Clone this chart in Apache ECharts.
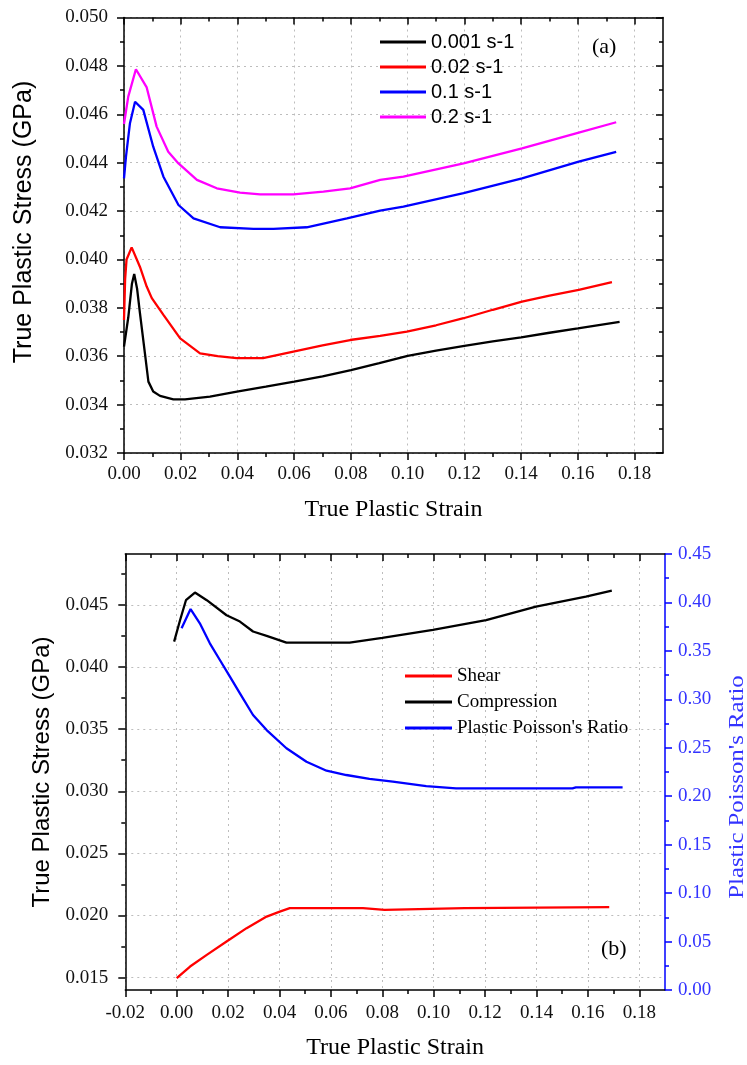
<!DOCTYPE html>
<html>
<head>
<meta charset="utf-8">
<script src="https://cdn.jsdelivr.net/npm/echarts@6/dist/echarts.min.js"></script>
<style>html,body{margin:0;padding:0;background:#fff}#c{width:747px;height:1065px}</style>
</head>
<body>
<div id="c"></div>
<script>
// ---------- Data: panel (a) ----------
const rateNames = ['0.001 s-1', '0.02 s-1', '0.1 s-1', '0.2 s-1'];
const strain001 = [0, 0.0015, 0.0028, 0.0036, 0.0046, 0.0056, 0.0074, 0.0086, 0.0103, 0.0127, 0.0174, 0.0215, 0.0303, 0.0398, 0.050, 0.060, 0.070, 0.080, 0.090, 0.100, 0.110, 0.120, 0.130, 0.140, 0.150, 0.160, 0.1747];
const stress001 = [0.0364, 0.0376, 0.0390, 0.0394, 0.0388, 0.0378, 0.0361, 0.03495, 0.03454, 0.03436, 0.03422, 0.03422, 0.03433, 0.03454, 0.03474, 0.03495, 0.03517, 0.03543, 0.03571, 0.03601, 0.03623, 0.03643, 0.03661, 0.03678, 0.03697, 0.03715, 0.03742];
const strain02 = [0, 0.0004, 0.0009, 0.0027, 0.0056, 0.0080, 0.0098, 0.0139, 0.0198, 0.0268, 0.0330, 0.0397, 0.0490, 0.0597, 0.0700, 0.0797, 0.0903, 0.0997, 0.1100, 0.1197, 0.1300, 0.1403, 0.1500, 0.1603, 0.1720];
const stress02 = [0.0375, 0.0392, 0.0400, 0.0405, 0.0397, 0.03888, 0.0384, 0.03771, 0.03674, 0.03612, 0.03600, 0.03592, 0.03592, 0.03619, 0.03645, 0.03667, 0.03684, 0.03702, 0.03728, 0.03757, 0.03792, 0.03826, 0.03850, 0.03874, 0.03906];
const strain1 = [0, 0.0007, 0.0021, 0.0039, 0.0068, 0.0103, 0.0139, 0.0192, 0.0245, 0.0339, 0.0456, 0.0527, 0.0644, 0.0786, 0.0903, 0.0985, 0.1197, 0.1403, 0.1603, 0.1735];
const stress1 = [0.04335, 0.04425, 0.04563, 0.04652, 0.04618, 0.04466, 0.04342, 0.04225, 0.04170, 0.04133, 0.04126, 0.04126, 0.04133, 0.04170, 0.04202, 0.04218, 0.04274, 0.04335, 0.04404, 0.04445];
const strain2 = [0, 0.0015, 0.0042, 0.0080, 0.0115, 0.0156, 0.0192, 0.0257, 0.0327, 0.0409, 0.0480, 0.0597, 0.0703, 0.0797, 0.0903, 0.0985, 0.1197, 0.1403, 0.1603, 0.1735];
const stress2 = [0.0456, 0.04673, 0.04786, 0.04711, 0.04549, 0.04445, 0.04397, 0.04329, 0.04294, 0.04276, 0.04269, 0.04269, 0.04280, 0.04294, 0.04329, 0.04342, 0.04397, 0.04459, 0.04524, 0.04567];

// ---------- Data: panel (b) ----------
const bNames = ['Shear', 'Compression', "Plastic Poisson's Ratio"];
const shearStrain = [0.0000, 0.0052, 0.0117, 0.0194, 0.0272, 0.0350, 0.0401, 0.0440, 0.0725, 0.0726, 0.0809, 0.0810, 0.1120, 0.1121, 0.1683];
const shearStress = [0.01495, 0.01589, 0.01683, 0.01790, 0.01898, 0.01991, 0.02031, 0.02059, 0.02059, 0.02045, 0.02045, 0.02059, 0.02059, 0.02067, 0.02067];
const compStrain = [-0.001, 0.0013, 0.0036, 0.0071, 0.0117, 0.0194, 0.0246, 0.0297, 0.0350, 0.0427, 0.0673, 0.0800, 0.0997, 0.1204, 0.1398, 0.1592, 0.1693];
const compStress = [0.04205, 0.04377, 0.04538, 0.04600, 0.04538, 0.04417, 0.04366, 0.04286, 0.04251, 0.04197, 0.04197, 0.04235, 0.04299, 0.04377, 0.04486, 0.04567, 0.04616];
const poisStrain = [0.0019, 0.0054, 0.0090, 0.0129, 0.0168, 0.0207, 0.0246, 0.0297, 0.0350, 0.0427, 0.0505, 0.0583, 0.0660, 0.0750, 0.0841, 0.0971, 0.1087, 0.1540, 0.1553, 0.1735];
const poisRatio = [0.3733, 0.3932, 0.3785, 0.3578, 0.3406, 0.3234, 0.3062, 0.2838, 0.2683, 0.2495, 0.2356, 0.2263, 0.2219, 0.2180, 0.2150, 0.2105, 0.2082, 0.2082, 0.2092, 0.2092];

// ---------- Tick values ----------
const aXTicks = [0, 0.02, 0.04, 0.06, 0.08, 0.10, 0.12, 0.14, 0.16, 0.18];
const aXMinor = [0.01, 0.03, 0.05, 0.07, 0.09, 0.11, 0.13, 0.15, 0.17];
const aYTicks = [0.032, 0.034, 0.036, 0.038, 0.040, 0.042, 0.044, 0.046, 0.048, 0.050];
const aYMinor = [0.033, 0.035, 0.037, 0.039, 0.041, 0.043, 0.045, 0.047, 0.049];
const bXTicks = [-0.02, 0, 0.02, 0.04, 0.06, 0.08, 0.10, 0.12, 0.14, 0.16, 0.18];
const bXMinor = [-0.01, 0.01, 0.03, 0.05, 0.07, 0.09, 0.11, 0.13, 0.15, 0.17];
const bYTicks = [0.015, 0.020, 0.025, 0.030, 0.035, 0.040, 0.045];
const bYMinor = [0.0175, 0.0225, 0.0275, 0.0325, 0.0375, 0.0425, 0.0475];
const bY2Ticks = [0, 0.05, 0.10, 0.15, 0.20, 0.25, 0.30, 0.35, 0.40, 0.45];
const bY2Minor = [0.025, 0.075, 0.125, 0.175, 0.225, 0.275, 0.325, 0.375, 0.425];

const zip = (xs, ys) => xs.map((x, i) => [x, ys[i]]);
const SERIF = "'Liberation Serif', 'Times New Roman', serif";
const SANS = "'Liberation Sans', Arial, sans-serif";

function ax(o) {
  const col = o.color || '#000';
  return {
    type: 'value', gridIndex: o.grid, position: o.pos, min: o.min, max: o.max,
    axisLine: { show: !!o.line, onZero: false, lineStyle: { color: col, width: 1.5 } },
    axisTick: { show: true, inside: !!o.inside, length: o.len, customValues: o.ticks, lineStyle: { color: col, width: 1.5 } },
    axisLabel: o.labels ? {
      show: true, customValues: o.ticks, margin: o.margin,
      formatter: v => Number(v).toFixed(o.dec),
      fontFamily: SERIF, fontSize: 19, color: o.labelColor || '#111'
    } : { show: false },
    splitLine: o.split ? { show: true, lineStyle: { color: '#bdbdbd', width: 1, type: [2, 4] } } : { show: false },
    name: o.name || '', nameLocation: 'middle', nameGap: o.nameGap || 0,
    nameTextStyle: o.nameStyle || {},
    axisPointer: { show: false }
  };
}

const xAxis = [
  // panel (a)
  ax({ grid: 0, pos: 'bottom', min: 0, max: 0.19, line: true, len: 7, ticks: aXTicks, labels: true, dec: 2, margin: 12, split: true,
       name: 'True Plastic Strain', nameGap: 45, nameStyle: { fontFamily: SERIF, fontSize: 24, color: '#000' } }),
  ax({ grid: 0, pos: 'bottom', min: 0, max: 0.19, len: 4, ticks: aXMinor }),
  ax({ grid: 0, pos: 'top', min: 0, max: 0.19, line: true, inside: true, len: 7, ticks: aXTicks }),
  ax({ grid: 0, pos: 'top', min: 0, max: 0.19, inside: true, len: 4, ticks: aXMinor }),
  // panel (b)
  ax({ grid: 1, pos: 'bottom', min: -0.02, max: 0.19, line: true, len: 7, ticks: bXTicks, labels: true, dec: 2, margin: 14, split: true,
       name: 'True Plastic Strain', nameGap: 46, nameStyle: { fontFamily: SERIF, fontSize: 24, color: '#000' } }),
  ax({ grid: 1, pos: 'bottom', min: -0.02, max: 0.19, len: 4, ticks: bXMinor }),
  ax({ grid: 1, pos: 'top', min: -0.02, max: 0.19, line: true, inside: true, len: 7, ticks: bXTicks }),
  ax({ grid: 1, pos: 'top', min: -0.02, max: 0.19, inside: true, len: 4, ticks: bXMinor })
];

const yAxis = [
  // panel (a)
  ax({ grid: 0, pos: 'left', min: 0.032, max: 0.050, line: true, len: 7, ticks: aYTicks, labels: true, dec: 3, margin: 16, split: true }),
  ax({ grid: 0, pos: 'left', min: 0.032, max: 0.050, len: 4, ticks: aYMinor }),
  ax({ grid: 0, pos: 'right', min: 0.032, max: 0.050, line: true, inside: true, len: 7, ticks: aYTicks }),
  ax({ grid: 0, pos: 'right', min: 0.032, max: 0.050, inside: true, len: 4, ticks: aYMinor }),
  // panel (b)
  ax({ grid: 1, pos: 'left', min: 0.014, max: 0.0491, line: true, len: 7, ticks: bYTicks, labels: true, dec: 3, margin: 17, split: true,
       name: 'True Plastic Stress (GPa)', nameGap: 70, nameStyle: { fontFamily: SANS, fontSize: 24, color: '#000' } }),
  ax({ grid: 1, pos: 'left', min: 0.014, max: 0.0491, len: 4, ticks: bYMinor }),
  ax({ grid: 1, pos: 'right', min: 0, max: 0.45, line: true, len: 7, ticks: bY2Ticks, labels: true, dec: 2, margin: 13,
       color: '#0000ff', labelColor: '#3333ff' }),
  ax({ grid: 1, pos: 'right', min: 0, max: 0.45, len: 4, ticks: bY2Minor, color: '#0000ff' })
];

function line(name, xi, yi, data, color) {
  return {
    type: 'line', name, xAxisIndex: xi, yAxisIndex: yi, data,
    symbol: 'none', showSymbol: false, smooth: false,
    lineStyle: { color, width: 2.3 }, itemStyle: { color }, z: 5
  };
}

const option = {
  animation: false,
  backgroundColor: '#fff',
  grid: [
    { left: 124, top: 17.5, right: 84, bottom: 612, containLabel: false },
    { left: 125.3, top: 554, right: 82, bottom: 75, containLabel: false }
  ],
  xAxis, yAxis,
  legend: [
    { data: rateNames, orient: 'vertical', left: 380, top: 32, padding: 0, icon: 'rect', itemWidth: 46, itemHeight: 3, itemGap: 5,
      textStyle: { fontFamily: SANS, fontSize: 20, color: '#000', lineHeight: 20 } },
    { data: bNames, orient: 'vertical', left: 405, top: 666, padding: 0, icon: 'rect', itemWidth: 47, itemHeight: 3, itemGap: 6,
      textStyle: { fontFamily: SERIF, fontSize: 19, color: '#000', lineHeight: 20 } }
  ],
  graphic: [
    { type: 'text', left: 592, top: 36, style: { text: '(a)', font: "22px 'Liberation Serif'", fill: '#000' } },
    { type: 'text', left: 601, top: 938, style: { text: '(b)', font: "22px 'Liberation Serif'", fill: '#000' } },
    { type: 'text', x: 24, y: 222, rotation: Math.PI / 2,
      style: { text: 'True Plastic Stress (GPa)', font: "25px 'Liberation Sans'", fill: '#000', align: 'center', verticalAlign: 'middle' } },
    { type: 'text', x: 737, y: 787, rotation: Math.PI / 2, scaleX: 1.18,
      style: { text: "Plastic Poisson's Ratio", font: "21px 'Liberation Serif'", fill: '#3333ff', align: 'center', verticalAlign: 'middle' } }
  ],
  series: [
    line(rateNames[0], 0, 0, zip(strain001, stress001), '#000000'),
    line(rateNames[1], 0, 0, zip(strain02, stress02), '#ff0000'),
    line(rateNames[2], 0, 0, zip(strain1, stress1), '#0000ff'),
    line(rateNames[3], 0, 0, zip(strain2, stress2), '#ff00ff'),
    line(bNames[0], 4, 4, zip(shearStrain, shearStress), '#ff0000'),
    line(bNames[1], 4, 4, zip(compStrain, compStress), '#000000'),
    line(bNames[2], 4, 6, zip(poisStrain, poisRatio), '#0000ff')
  ]
};

const chart = echarts.init(document.getElementById('c'), null, { renderer: 'canvas' });
chart.setOption(option);
</script>
</body>
</html>
